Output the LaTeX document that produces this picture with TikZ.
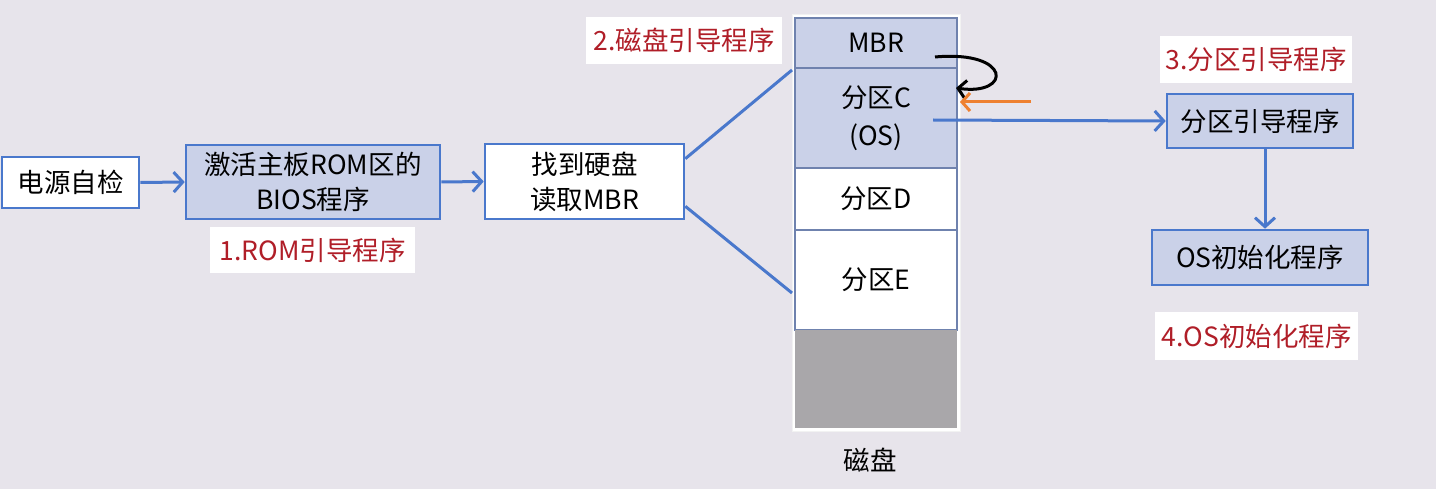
\documentclass[tikz,border=0pt]{standalone}
\usepackage{fontspec}
\setmainfont{Noto Sans CJK SC}
\usetikzlibrary{arrows.meta}
\definecolor{bg}{HTML}{E7E4EB}
\definecolor{bl}{HTML}{4A78CC}
\definecolor{bfill}{HTML}{CAD1E8}
\definecolor{lred}{HTML}{B01E28}
\definecolor{dgray}{HTML}{A9A7AA}
\definecolor{seg}{HTML}{6F82AE}
\definecolor{org}{HTML}{EE8030}
\begin{document}
\begin{tikzpicture}[x=1pt,y=-1pt,
  box/.style={draw=bl,line width=2.6pt,inner sep=0pt,align=center,font=\fontsize{26.5}{35}\selectfont},
  wbox/.style={box,fill=white},
  fbox/.style={box,fill=bfill},
  lab/.style={fill=white,text=lred,inner sep=0pt,font=\fontsize{26.5}{30}\selectfont},
  segbox/.style={draw=seg,line width=2pt,inner sep=0pt,align=center,font=\fontsize{26.5}{38}\selectfont},
  arr/.style={draw=bl,line width=3pt,-{Straight Barb[length=9pt,width=20pt,line width=3pt]}},
  ln/.style={draw=bl,line width=3pt}]
\useasboundingbox (0,0) rectangle (1436,489);
\fill[bg] (0,0) rectangle (1436,489);

% left chain
\node[wbox,minimum width=137,minimum height=51] (power) at (70.5,182.5) {电源自检};
\node[fbox,minimum width=254,minimum height=74] (bios) at (313,182) {激活主板ROM区的\\BIOS程序};
\node[lab,minimum width=205,minimum height=46] (l1) at (312.5,250) {1.ROM引导程序};
\node[wbox,minimum width=199,minimum height=75] (find) at (584.5,181.5) {找到硬盘\\读取MBR};
\node[lab,minimum width=196,minimum height=47] (l2) at (684,40.5) {2.磁盘引导程序};

\draw[arr] (power.east) -- (bios.west);
\draw[arr] (bios.east) -- (find.west);

% disk
\node[fill=white,draw=white!90!gray,line width=1pt,minimum width=168,minimum height=416,inner sep=0pt] (disk) at (876,223) {};
\node[segbox,fill=bfill,minimum width=162,minimum height=50] (mbr) at (876,43) {MBR};
\node[segbox,fill=bfill,minimum width=162,minimum height=100] (pc) at (876,118) {分区C\\(OS)};
\node[segbox,fill=white,minimum width=162,minimum height=62] (pd) at (876,199) {分区D};
\node[segbox,fill=white,minimum width=162,minimum height=100] (pe) at (876,280) {分区E};
\node[fill=dgray,minimum width=162,minimum height=98,inner sep=0pt] (pg) at (876,379) {};
\node[inner sep=0pt,font=\fontsize{26.5}{30}\selectfont] (disklab) at (870,460) {磁盘};

\coordinate (dtop) at (792,70);
\coordinate (dbot) at (792,293);
\draw[ln] (find.north east) ++(0,16) coordinate (f1) (f1) -- (dtop);
\draw[ln] (find.south east) ++(0,-14) coordinate (f2) (f2) -- (dbot);

% MBR loop
\coordinate (m1) at (935,57);
\coordinate (m2) at (956,88);
\draw[black,line width=3pt,-{Straight Barb[length=8pt,width=18pt,line width=3pt]}]
  (m1) .. controls (1012,50) and (1012,96) .. (m2);
% orange arrow
\coordinate (o1) at (1031,102);
\coordinate (o2) at (960,102);
\draw[draw=org,line width=3pt,-{Straight Barb[length=8pt,width=18pt,line width=3pt]}] (o1) -- (o2);

% right side
\node[fbox,minimum width=186,minimum height=54] (pboot) at (1260,121) {分区引导程序};
\node[lab,minimum width=192,minimum height=47] (l3) at (1256,59.5) {3.分区引导程序};
\node[fbox,minimum width=216,minimum height=55] (osinit) at (1260,257.5) {OS初始化程序};
\node[lab,minimum width=203,minimum height=48] (l4) at (1256.5,336) {4.OS初始化程序};

\coordinate (cst) at (933,120);
\draw[arr] (cst) -- (pboot.west);
\draw[arr] (pboot.south) ++(5,0) coordinate (pb) (pb) -- (pb |- osinit.north);
\end{tikzpicture}
\end{document}
